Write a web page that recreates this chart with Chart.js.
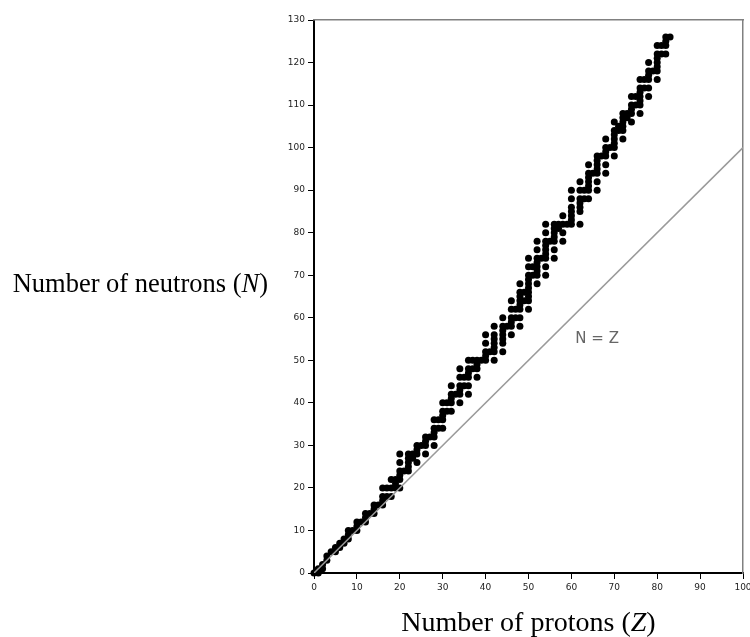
<!DOCTYPE html>
<html>
<head>
<meta charset="utf-8">
<script src="https://cdn.jsdelivr.net/npm/chart.js@4/dist/chart.umd.min.js"></script>
<style>
  html, body { margin: 0; padding: 0; background: #fff; }
  #wrap { width: 750px; height: 637px; }
</style>
</head>
<body>
<div id="wrap"><canvas id="chart"></canvas></div>
<script>
// stable nuclides, proton number Z and neutron number N (same order)
const protons = [
  0,
  1,1, 2,2, 3,3, 4, 5,5, 6,6, 7,7, 8,8,8, 9, 10,10,10,
  11, 12,12,12, 13, 14,14,14, 15, 16,16,16,16, 17,17, 18,18,18, 19,19,19, 20,20,20,20,20,20,
  21, 22,22,22,22,22, 23,23, 24,24,24,24, 25, 26,26,26,26, 27, 28,28,28,28,28, 29,29, 30,30,30,30,30,
  31,31, 32,32,32,32,32, 33, 34,34,34,34,34,34, 35,35, 36,36,36,36,36,36, 37,37, 38,38,38,38, 39, 40,40,40,40,40,
  41, 42,42,42,42,42,42,42, 44,44,44,44,44,44,44, 45, 46,46,46,46,46,46, 47,47, 48,48,48,48,48,48,48,48, 49,49,
  50,50,50,50,50,50,50,50,50,50,
  51,51, 52,52,52,52,52,52,52,52, 53, 54,54,54,54,54,54,54,54,54, 55, 56,56,56,56,56,56,56, 57,57, 58,58,58,58, 59,
  60,60,60,60,60,60,60,
  62,62,62,62,62,62,62, 63,63, 64,64,64,64,64,64,64, 65, 66,66,66,66,66,66,66, 67, 68,68,68,68,68,68, 69,
  70,70,70,70,70,70,70,
  71,71, 72,72,72,72,72,72, 73,73, 74,74,74,74,74, 75,75, 76,76,76,76,76,76,76, 77,77, 78,78,78,78,78,78, 79,
  80,80,80,80,80,80,80, 81,81, 82,82,82,82, 83
];
const neutrons = [
  0,
  0,1, 1,2, 3,4, 5, 5,6, 6,7, 7,8, 8,9,10, 10, 10,11,12,
  12, 12,13,14, 14, 14,15,16, 16, 16,17,18,20, 18,20, 18,20,22, 20,21,22, 20,22,23,24,26,28,
  24, 24,25,26,27,28, 27,28, 26,28,29,30, 30, 28,30,31,32, 32, 30,32,33,34,36, 34,36, 34,36,37,38,40,
  38,40, 38,40,41,42,44, 42, 40,42,43,44,46,48, 44,46, 42,44,46,47,48,50, 48,50, 46,48,49,50, 50, 50,51,52,54,56,
  52, 50,52,53,54,55,56,58, 52,54,55,56,57,58,60, 58, 56,58,59,60,62,64, 60,62, 58,60,62,63,64,65,66,68, 64,66,
  62,64,65,66,67,68,69,70,72,74,
  70,72, 68,70,71,72,73,74,76,78, 74, 70,72,74,75,76,77,78,80,82, 78, 74,76,78,79,80,81,82, 81,82, 78,80,82,84, 82,
  82,83,84,85,86,88,90,
  82,85,86,87,88,90,92, 88,90, 88,90,91,92,93,94,96, 94, 90,92,94,95,96,97,98, 98, 94,96,98,99,100,102, 100,
  98,100,101,102,103,104,106,
  104,105, 102,104,105,106,107,108, 107,108, 106,108,109,110,112, 110,112, 108,110,111,112,113,114,116, 114,116,
  112,114,116,117,118,120, 118,
  116,118,119,120,121,122,124, 122,124, 122,124,125,126, 126
];

// the N = Z reference line
const lineZ = [0, 100];
const lineN = [0, 100];

const zMax = 100;
const nMax = 130;
const tickStep = 10;

const nuclides = protons.map((z, i) => ({ x: z, y: neutrons[i] }));
const diagonal = lineZ.map((z, i) => ({ x: z, y: lineN[i] }));

const tickFont = { family: 'DejaVu Sans', size: 9 };

// draws "pre" + italic "sym" + "post" starting at left
function drawTitle(ctx, pre, sym, post, size, left, base) {
  const roman = size + 'px "Liberation Serif"';
  const italic = 'italic ' + size + 'px "Liberation Serif"';
  ctx.font = roman;
  const w1 = ctx.measureText(pre).width;
  ctx.fillText(pre, left, base);
  ctx.font = italic;
  const w2 = ctx.measureText(sym).width;
  ctx.fillText(sym, left + w1, base);
  ctx.font = roman;
  ctx.fillText(post, left + w1 + w2, base);
}

function titleWidth(ctx, pre, sym, post, size) {
  ctx.font = size + 'px "Liberation Serif"';
  let w = ctx.measureText(pre + post).width;
  ctx.font = 'italic ' + size + 'px "Liberation Serif"';
  return w + ctx.measureText(sym).width;
}

// axis titles with italic symbol, and the N = Z note
const labelsPlugin = {
  id: 'labels',
  afterDraw(chart) {
    const ctx = chart.ctx;
    const x = chart.scales.x;
    const y = chart.scales.y;
    ctx.save();
    ctx.fillStyle = '#000';
    ctx.textAlign = 'left';
    ctx.textBaseline = 'alphabetic';

    // y title, right edge near the tick labels
    const wy = titleWidth(ctx, 'Number of neutrons (', 'N', ')', 26.5);
    drawTitle(ctx, 'Number of neutrons (', 'N', ')', 26.5, 268 - wy, 292);

    // x title, centred under the plot
    const wx = titleWidth(ctx, 'Number of protons (', 'Z', ')', 28);
    const cx = (x.left + x.right) / 2;
    drawTitle(ctx, 'Number of protons (', 'Z', ')', 28, cx - wx / 2, 631);

    ctx.font = '15px "DejaVu Sans"';
    ctx.fillStyle = '#666';
    ctx.textAlign = 'center';
    ctx.textBaseline = 'middle';
    ctx.fillText('N = Z', x.getPixelForValue(66), y.getPixelForValue(55));
    ctx.restore();
  }
};

new Chart(document.getElementById('chart'), {
  type: 'scatter',
  data: {
    datasets: [
      {
        label: 'N = Z',
        type: 'line',
        data: diagonal,
        borderColor: '#9a9a9a',
        borderWidth: 1.5,
        pointRadius: 0,
        fill: false
      },
      {
        label: 'Stable nuclides',
        data: nuclides,
        backgroundColor: '#000',
        borderWidth: 0,
        pointRadius: 3.5,
        pointHoverRadius: 3.5,
        clip: false
      }
    ]
  },
  options: {
    responsive: true,
    maintainAspectRatio: false,
    animation: false,
    events: [],
    layout: { padding: { top: 20, right: 7, left: 0, bottom: 0 } },
    plugins: {
      legend: { display: false },
      tooltip: { enabled: false }
    },
    scales: {
      x: {
        type: 'linear',
        position: 'bottom',
        min: 0,
        max: zMax,
        ticks: { stepSize: tickStep, font: tickFont, color: '#222', padding: 3, maxRotation: 0 },
        grid: { drawOnChartArea: false, drawTicks: true, tickLength: 6, tickColor: '#000', tickWidth: 1 },
        border: { color: '#000', width: 2 },
        afterFit(scale) {
          scale.height = 64;
          scale.paddingLeft = 0;
          scale.paddingRight = 0;
        }
      },
      y: {
        type: 'linear',
        position: 'left',
        min: 0,
        max: nMax,
        ticks: { stepSize: tickStep, font: tickFont, color: '#222', padding: 3 },
        grid: { drawOnChartArea: false, drawTicks: true, tickLength: 6, tickColor: '#000', tickWidth: 1 },
        border: { color: '#000', width: 2 },
        afterFit(scale) {
          scale.width = 314;
          scale.paddingTop = 0;
          scale.paddingBottom = 0;
        }
      },
      xTop: {
        type: 'linear',
        position: 'top',
        min: 0,
        max: zMax,
        ticks: { display: false },
        grid: { display: false, drawTicks: false },
        border: { color: '#808080', width: 1.5 },
        afterFit(scale) { scale.height = 0; }
      },
      yRight: {
        type: 'linear',
        position: 'right',
        min: 0,
        max: nMax,
        ticks: { display: false },
        grid: { display: false, drawTicks: false },
        border: { color: '#808080', width: 1.5 },
        afterFit(scale) { scale.width = 0; }
      }
    }
  },
  plugins: [labelsPlugin]
});
</script>
</body>
</html>
